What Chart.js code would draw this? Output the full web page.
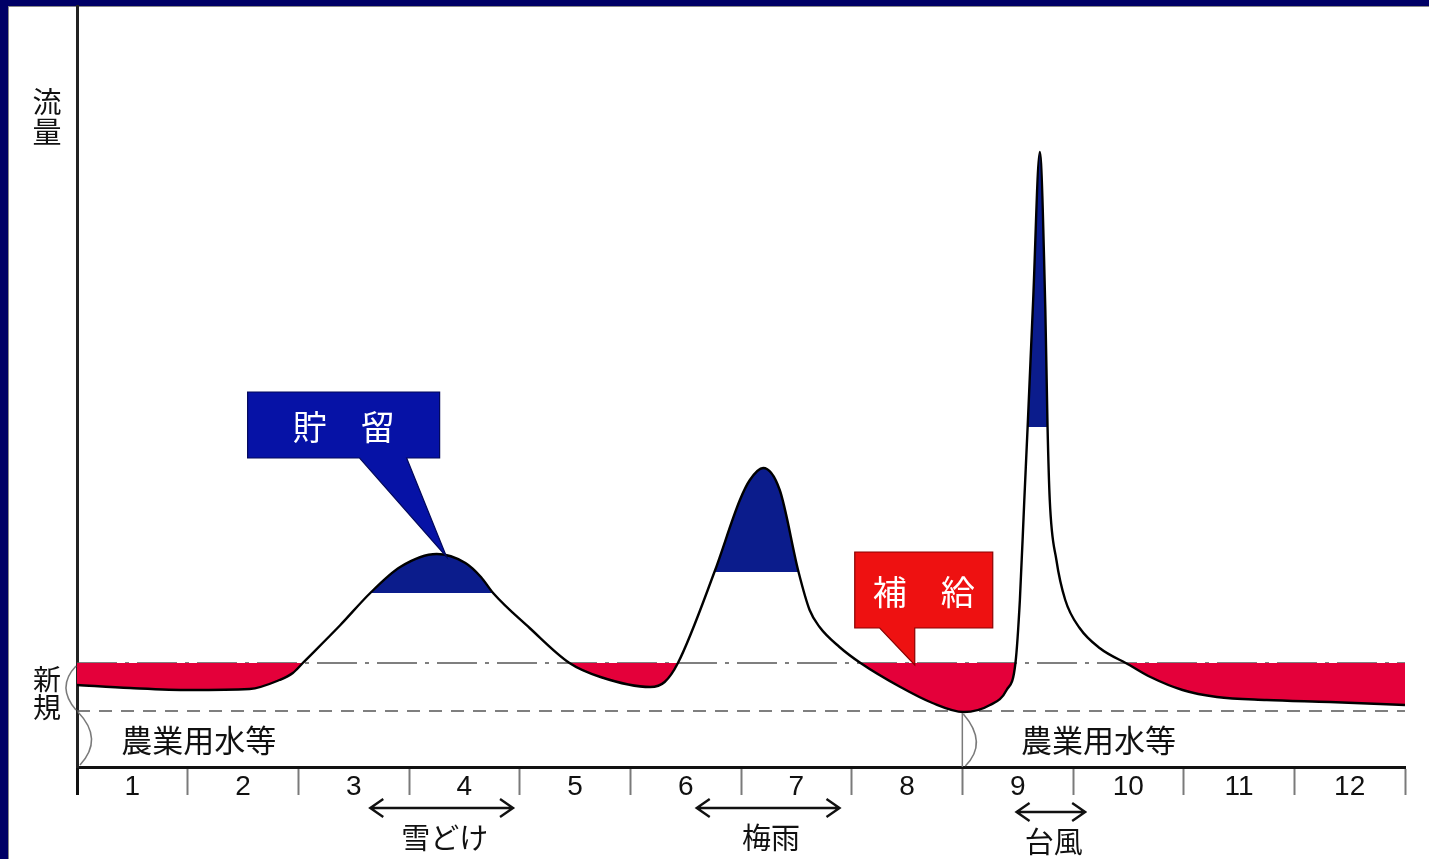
<!DOCTYPE html>
<html lang="ja">
<head>
<meta charset="utf-8">
<title>河川流量と貯留・補給</title>
<script src="https://cdn.jsdelivr.net/npm/chart.js@4.4.1/dist/chart.umd.min.js"></script>
<style>
  html, body { margin: 0; padding: 0; background: #fff; }
  #wrap { position: relative; width: 1429px; height: 859px; }
  canvas { display: block; }
</style>
</head>
<body>
<div id="wrap"><canvas id="chart" width="1429" height="859"></canvas></div>
<script>
// Month axis: 0 = start of January, 12 = end of December
const monthLabels = ['1', '2', '3', '4', '5', '6', '7', '8', '9', '10', '11', '12'];

// River flow over the year (month position, flow)
const flowMonths = [
  0.00, 0.48, 1.02, 1.56, 1.83, 1.95, 2.04, 2.38, 2.65, 2.92, 3.25, 3.51, 3.65, 3.76, 4.09, 4.45,
  4.73, 5.18, 5.31, 5.43, 5.76, 5.99, 6.08, 6.20, 6.35, 6.52, 6.62, 6.71, 6.89, 7.08,
  7.44, 7.73, 8.01, 8.25, 8.40, 8.48, 8.52, 8.56, 8.59, 8.64, 8.70, 8.75, 8.77, 8.79, 8.85,
  8.93, 9.06, 9.24, 9.51, 9.70, 9.99, 10.30, 10.75, 11.32, 12.00
];
const flowValues = [
  8.2, 7.9, 7.7, 7.8, 8.7, 9.4, 10.4, 14.2, 17.4, 20.0, 21.3, 20.4, 19.0, 17.4, 13.9, 10.4,
  9.0, 8.0, 8.5, 10.4, 19.5, 26.7, 28.7, 29.9, 27.7, 19.5, 15.7, 14.0, 12.0, 10.4,
  8.0, 6.4, 5.5, 6.2, 7.7, 10.4, 16.7, 26.7, 34.0, 46.7, 61.5, 45.7, 34.0, 26.7, 20.7,
  16.7, 13.9, 11.9, 10.2, 9.0, 7.7, 7.0, 6.7, 6.5, 6.2
];

// Reference flow levels
const newUseLevel = 10.4;   // 新規
const farmUseLevel = 5.6;   // 農業用水等

// Floods stored in the reservoir: month span and the level above which water is kept
const storageFrom = [2.04, 5.43, 8.48];
const storageTo = [4.45, 7.08, 9.51];
const storageLevels = [17.4, 19.5, 34.0];

// Seasonal events under the month axis
const seasonNames = ['雪どけ', '梅雨', '台風'];
const seasonStart = [2.65, 5.60, 8.49];
const seasonEnd = [3.94, 6.89, 9.11];

// Callout anchors (month, flow)
const calloutTexts = ['貯\u3000留', '補\u3000給'];
const calloutMonths = [3.34, 7.57];
const calloutValues = [21.0, 10.2];

const RED = '#e4003a';
const BLUE = '#0b1c8c';

const flowPoints = flowMonths.map((m, i) => ({ x: m, y: flowValues[i] }));

const storageSets = storageLevels.map((lvl, k) => ({
  data: flowPoints.filter(p => p.x >= storageFrom[k] && p.x <= storageTo[k]),
  borderColor: 'rgba(0,0,0,0)',
  borderWidth: 0,
  pointRadius: 0,
  cubicInterpolationMode: 'monotone',
  fill: { target: { value: lvl }, above: BLUE, below: 'rgba(0,0,0,0)' },
  order: 2
}));

const levelLine = (v, dash) => ({
  data: [{ x: 0, y: v }, { x: monthLabels.length, y: v }],
  borderColor: '#555555',
  borderWidth: 1.6,
  borderDash: dash,
  pointRadius: 0,
  fill: false,
  order: 3
});

const tickValues = [];
for (let i = 0; i <= monthLabels.length; i++) {
  tickValues.push(i);
  if (i < monthLabels.length) tickValues.push(i + 0.5);
}

// Frame around the drawing
const framePlugin = {
  id: 'frame',
  beforeDraw(chart) {
    const { ctx, width, height } = chart;
    ctx.save();
    ctx.fillStyle = '#ffffff';
    ctx.fillRect(0, 0, width, height);
    ctx.fillStyle = '#000066';
    ctx.fillRect(0, 0, width, 6);
    ctx.fillRect(0, 0, 8, height);
    ctx.fillStyle = '#8a8a8a';
    ctx.fillRect(8, 6, width - 8, 1);
    ctx.fillRect(8, 6, 1, height - 6);
    ctx.restore();
  }
};

function drawCallout(ctx, tx, ty, box, base, fill, stroke, text) {
  const [x0, y0, x1, y1] = box;
  ctx.beginPath();
  ctx.moveTo(tx + x0, ty + y0);
  ctx.lineTo(tx + x1, ty + y0);
  ctx.lineTo(tx + x1, ty + y1);
  ctx.lineTo(tx + base[1], ty + y1);
  ctx.lineTo(tx, ty);
  ctx.lineTo(tx + base[0], ty + y1);
  ctx.lineTo(tx + x0, ty + y1);
  ctx.closePath();
  ctx.fillStyle = fill;
  ctx.fill();
  ctx.strokeStyle = stroke;
  ctx.lineWidth = 1.2;
  ctx.stroke();
  ctx.fillStyle = '#ffffff';
  ctx.font = '34px "Noto Sans CJK JP", sans-serif';
  ctx.textAlign = 'center';
  ctx.textBaseline = 'middle';
  ctx.fillText(text, tx + (x0 + x1) / 2, ty + (y0 + y1) / 2 + 2);
}

function drawArrow(ctx, xa, xb, y) {
  ctx.beginPath();
  ctx.moveTo(xa, y); ctx.lineTo(xb, y);
  ctx.moveTo(xa + 13, y - 9); ctx.lineTo(xa, y); ctx.lineTo(xa + 13, y + 9);
  ctx.moveTo(xb - 13, y - 9); ctx.lineTo(xb, y); ctx.lineTo(xb - 13, y + 9);
  ctx.stroke();
}

// Labels, braces, season arrows and callouts
const notesPlugin = {
  id: 'notes',
  afterDraw(chart) {
    const { ctx, chartArea: a, scales: { x, y } } = chart;
    const yNew = y.getPixelForValue(newUseLevel);
    const yFarm = y.getPixelForValue(farmUseLevel);
    const yZero = y.getPixelForValue(0);
    ctx.save();

    // braces
    ctx.strokeStyle = '#7a7a7a';
    ctx.lineWidth = 1.5;
    ctx.beginPath();
    ctx.moveTo(a.left - 1, yNew + 3);
    ctx.quadraticCurveTo(a.left - 21, (yNew + yFarm) / 2, a.left - 1, yFarm - 1);
    ctx.stroke();
    ctx.beginPath();
    ctx.moveTo(a.left + 1, yFarm + 1);
    ctx.quadraticCurveTo(a.left + 27, (yFarm + yZero) / 2, a.left + 3, yZero - 2);
    ctx.stroke();
    const xb = x.getPixelForValue(8);
    ctx.beginPath();
    ctx.moveTo(xb, yFarm + 2); ctx.lineTo(xb, yZero);
    ctx.stroke();
    ctx.beginPath();
    ctx.moveTo(xb + 1, yFarm + 3);
    ctx.quadraticCurveTo(xb + 26, (yFarm + yZero) / 2 + 4, xb + 3, yZero - 1);
    ctx.stroke();

    // axis captions
    ctx.fillStyle = '#111';
    ctx.textAlign = 'center';
    ctx.textBaseline = 'middle';
    ctx.font = '29px "Noto Sans CJK JP", sans-serif';
    ctx.fillText('流', a.left - 30, a.top + 96);
    ctx.fillText('量', a.left - 30, a.top + 126);
    ctx.font = '28px "Noto Sans CJK JP", sans-serif';
    ctx.fillText('新', a.left - 30, yNew + 16);
    ctx.fillText('規', a.left - 30, yNew + 44);

    ctx.font = '31px "Noto Sans CJK JP", sans-serif';
    const yFarmText = (yFarm + yZero) / 2 + 1;
    ctx.fillText('農業用水等', x.getPixelForValue(1.1), yFarmText);
    ctx.fillText('農業用水等', x.getPixelForValue(9.23), yFarmText);

    // season arrows
    ctx.strokeStyle = '#111';
    ctx.lineWidth = 2.4;
    ctx.font = '29px "Noto Sans CJK JP", sans-serif';
    seasonNames.forEach((name, k) => {
      const xa = x.getPixelForValue(seasonStart[k]);
      const xe = x.getPixelForValue(seasonEnd[k]);
      const dy = k === 2 ? 4 : 0;
      drawArrow(ctx, xa, xe, a.bottom + 41 + dy);
      ctx.fillText(name, (xa + xe) / 2 + 3, a.bottom + 71 + dy);
    });

    // callouts
    const t0x = x.getPixelForValue(calloutMonths[0]);
    const t0y = y.getPixelForValue(calloutValues[0]);
    drawCallout(ctx, t0x, t0y, [-199, -165, -7, -99], [-87, -40], '#0612a6', '#02085a', calloutTexts[0]);
    const t1x = x.getPixelForValue(calloutMonths[1]);
    const t1y = y.getPixelForValue(calloutValues[1]);
    drawCallout(ctx, t1x, t1y, [-60, -113, 78, -37], [-35, 0], '#ee1111', '#8a0000', calloutTexts[1]);

    ctx.restore();
  }
};

new Chart(document.getElementById('chart'), {
  type: 'line',
  data: {
    datasets: [
      {
        data: flowPoints,
        borderColor: '#000',
        borderWidth: 2.4,
        pointRadius: 0,
        cubicInterpolationMode: 'monotone',
        fill: { target: { value: newUseLevel }, above: 'rgba(0,0,0,0)', below: RED },
        order: 1
      },
      ...storageSets,
      levelLine(newUseLevel, [40, 8, 4, 8]),
      levelLine(farmUseLevel, [13, 9])
    ]
  },
  options: {
    responsive: false,
    animation: false,
    devicePixelRatio: 1,
    layout: { padding: { top: 6, right: 24, left: 0, bottom: 0 } },
    plugins: { legend: { display: false }, tooltip: { enabled: false }, title: { display: false } },
    scales: {
      x: {
        type: 'linear',
        min: 0,
        max: monthLabels.length,
        afterBuildTicks: s => { s.ticks = tickValues.map(v => ({ value: v })); },
        afterFit: s => { s.height = 92; },
        ticks: {
          autoSkip: false,
          maxRotation: 0,
          padding: -25,
          color: '#111',
          font: { family: '"Liberation Sans", Arial, sans-serif', size: 28 },
          callback: v => {
            const i = v - 0.5;
            return Number.isInteger(i) ? monthLabels[i] : '';
          }
        },
        grid: {
          display: true,
          drawOnChartArea: false,
          drawTicks: true,
          tickLength: 28,
          tickWidth: c => (c.tick && c.tick.value === 0 ? 3 : 2),
          tickColor: c => {
            if (!c.tick || !Number.isInteger(c.tick.value)) return 'rgba(0,0,0,0)';
            return c.tick.value === 0 ? '#111' : '#7a7a7a';
          }
        },
        border: { display: true, color: '#111', width: 3 }
      },
      y: {
        type: 'linear',
        min: 0,
        max: 76.1,
        afterFit: s => { s.width = 77; },
        ticks: { display: false },
        grid: { display: false, drawTicks: false },
        border: { display: true, color: '#222', width: 3 }
      }
    }
  },
  plugins: [framePlugin, notesPlugin]
});
</script>
</body>
</html>
